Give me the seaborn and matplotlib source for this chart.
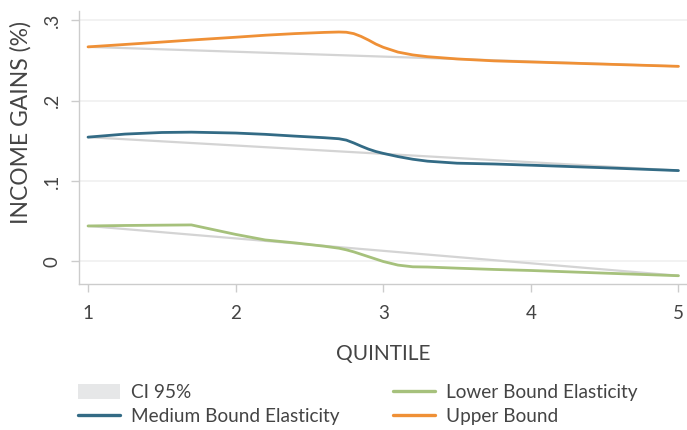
import matplotlib
matplotlib.use("Agg")
import matplotlib.pyplot as plt
import seaborn as sns
import pandas as pd
from matplotlib.patches import Patch
from matplotlib.lines import Line2D

quintile = [1.0, 1.25, 1.5, 1.7, 2.0, 2.2, 2.4, 2.6, 2.7, 2.75, 2.8, 2.85, 2.9, 2.95, 3.0, 3.1, 3.2, 3.3, 3.5, 3.75, 4.0, 4.5, 5.0]
upper = [0.267, 0.270, 0.273, 0.2755, 0.279, 0.2815, 0.2835, 0.2850, 0.2855, 0.2852, 0.2835, 0.2800, 0.2755, 0.2705,
         0.2665, 0.2605, 0.2570, 0.2548, 0.2520, 0.2496, 0.2482, 0.2455, 0.2428]
medium = [0.1547, 0.1585, 0.1605, 0.1609, 0.1598, 0.1582, 0.1560, 0.1540, 0.1527, 0.1510, 0.1475, 0.1435, 0.1398,
          0.1368, 0.1345, 0.1305, 0.1272, 0.1248, 0.1223, 0.1213, 0.1198, 0.1166, 0.1131]
lower = [0.0442, 0.0448, 0.0452, 0.0455, 0.0337, 0.0268, 0.0232, 0.0190, 0.0165, 0.0145, 0.0120, 0.0090, 0.0060,
         0.0030, 0.0000, -0.0045, -0.0066, -0.0069, -0.0083, -0.0099, -0.0112, -0.0145, -0.0177]
ci_x = [1.0, 5.0]
ci_upper = [0.267, 0.2428]
ci_medium = [0.1547, 0.1131]
ci_lower = [0.0442, -0.0177]

x_ticks = [1, 2, 3, 4, 5]
y_ticks = [0.0, 0.1, 0.2, 0.3]
y_tick_labels = ["0", ".1", ".2", ".3"]

series_names = ["Medium Bound Elasticity", "Lower Bound Elasticity", "Upper Bound"]
colors = {"Medium Bound Elasticity": "#336b85", "Lower Bound Elasticity": "#a6c17c", "Upper Bound": "#ef9036"}
ci_color = "#d4d4d4"
text_color = "#444444"

df = pd.concat([
    pd.DataFrame({"quintile": quintile, "value": medium, "series": series_names[0]}),
    pd.DataFrame({"quintile": quintile, "value": lower, "series": series_names[1]}),
    pd.DataFrame({"quintile": quintile, "value": upper, "series": series_names[2]}),
])
ci_df = pd.concat([
    pd.DataFrame({"quintile": ci_x, "value": ci_upper, "band": "u"}),
    pd.DataFrame({"quintile": ci_x, "value": ci_medium, "band": "m"}),
    pd.DataFrame({"quintile": ci_x, "value": ci_lower, "band": "l"}),
])

sns.set_theme(style="white")
plt.rcParams["font.family"] = ["Lato", "DejaVu Sans"]

fig = plt.figure(figsize=(6.87, 4.30), dpi=100)
ax = fig.add_axes([0.1146, 0.3388, 0.8854, 0.6363])

sns.lineplot(data=ci_df, x="quintile", y="value", units="band", estimator=None,
             color=ci_color, lw=1.6, ax=ax, legend=False, zorder=2)
sns.lineplot(data=df, x="quintile", y="value", hue="series", palette=colors,
             estimator=None, lw=2.0, ax=ax, legend=False, zorder=3)

ax.set_xlim(0.937, 5.058)
ax.set_ylim(-0.0284, 0.312)
ax.set_xticks(x_ticks)
ax.set_xticklabels([str(t) for t in x_ticks])
ax.set_yticks(y_ticks)
ax.set_yticklabels(y_tick_labels, rotation=90, va="center")
ax.grid(axis="y", color="#f0f0f0", lw=1.2)
ax.grid(axis="x", visible=False)
ax.set_axisbelow(True)

for s in ["top", "right"]:
    ax.spines[s].set_visible(False)
for s in ["left", "bottom"]:
    ax.spines[s].set_color("#cccccc")
    ax.spines[s].set_linewidth(1.0)

ax.tick_params(axis="both", which="both", length=6, width=1, color="#cccccc",
               labelcolor=text_color, labelsize=13.5, direction="out", left=True, bottom=True)
ax.tick_params(axis="x", pad=9)
ax.tick_params(axis="y", pad=7)

ax.set_xlabel("QUINTILE", fontsize=15, color=text_color, labelpad=16)
ax.set_ylabel("INCOME GAINS (%)", fontsize=16.5, color=text_color)
ax.yaxis.set_label_coords(-0.0768, 0.59)

handles = [
    Patch(facecolor="#e6e7e8", edgecolor="none"),
    Line2D([], [], color=colors["Medium Bound Elasticity"], lw=2.4),
    Line2D([], [], color=colors["Lower Bound Elasticity"], lw=2.4),
    Line2D([], [], color=colors["Upper Bound"], lw=2.4),
]
labels = ["CI 95%", "Medium Bound Elasticity", "Lower Bound Elasticity", "Upper Bound"]
leg = fig.legend(handles, labels, ncol=2, loc="center left", bbox_to_anchor=(0.1135, 0.0593),
                 frameon=False, fontsize=13.7, labelcolor=text_color, handlelength=2.2,
                 handleheight=0.85, columnspacing=2.8, labelspacing=0.38, handletextpad=0.6,
                 borderaxespad=0, borderpad=0)

fig.savefig("out.png", dpi=100)
